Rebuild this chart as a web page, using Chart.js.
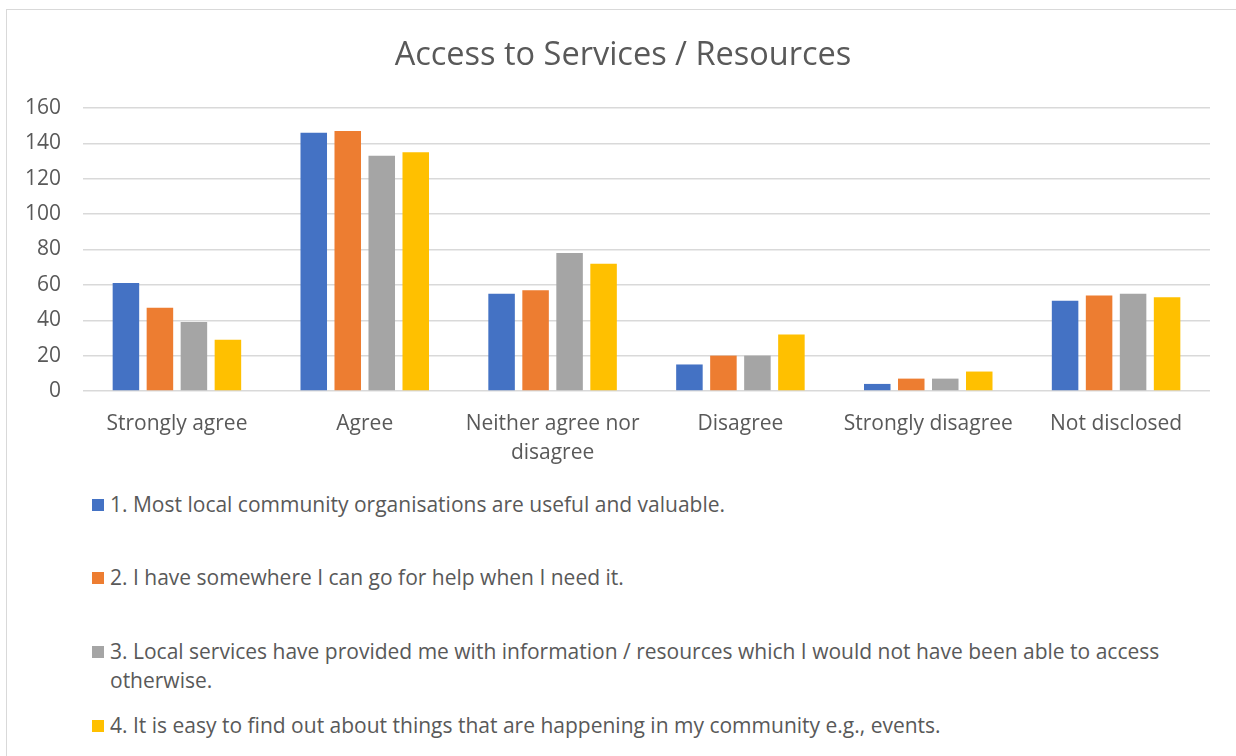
<!DOCTYPE html>
<html lang="en">
<head>
  <meta charset="UTF-8">
  <title>Access to Services / Resources</title>
  <script src="https://cdn.jsdelivr.net/npm/chart.js"></script>
  <style>
    body {
      margin: 0;
      background: #fff;
      font-family: 'Open Sans', sans-serif;
      overflow: hidden;
    }

    #frame {
      position: absolute;
      left: 6px;
      top: 9px;
      width: 1400px;
      height: 900px;
      border: 1.5px solid #d9d9d9;
    }

    #chart-wrap {
      position: absolute;
      left: 0;
      top: 0;
      width: 1236px;
      height: 470px;
    }

    #legend {
      position: absolute;
      left: 92px;
      top: 490px;
      width: 1120px;
      color: #595959;
      font-size: 21px;
      line-height: 29px;
    }

    .legend-item {
      display: flex;
      align-items: flex-start;
    }
    .legend-item:nth-child(2) { margin-top: 44px; }
    .legend-item:nth-child(3) { margin-top: 45px; }
    .legend-item:nth-child(4) { margin-top: 16px; }

    .legend-box {
      flex: 0 0 12px;
      height: 12px;
      margin-top: 8.5px;
      margin-right: 6px;
    }
    .legend-text {
      max-width: 1080px;
    }
  </style>
</head>
<body>

  <div id="frame"></div>
  <div id="chart-wrap"><canvas id="chart"></canvas></div>
  <div id="legend"></div>

  <script>
    const categories = [
      'Strongly agree',
      'Agree',
      ['Neither agree nor', 'disagree'],
      'Disagree',
      'Strongly disagree',
      'Not disclosed'
    ];

    const seriesNames = [
      '1. Most local community organisations are useful and valuable.',
      '2. I have somewhere I can go for help when I need it.',
      '3. Local services have provided me with information / resources which I would not have been able to access otherwise.',
      '4. It is easy to find out about things that are happening in my community e.g., events.'
    ];

    const usefulOrgs    = [61, 146, 55, 15, 4, 51];
    const helpWhenNeed  = [47, 147, 57, 20, 7, 54];
    const infoAccess    = [39, 133, 78, 20, 7, 55];
    const findOutEvents = [29, 135, 72, 32, 11, 53];

    const yTicks = [0, 20, 40, 60, 80, 100, 120, 140, 160];

    const colors = ['#4472C4', '#ED7D31', '#A5A5A5', '#FFC000'];
    const textColor = '#595959';
    const font = "'Open Sans', sans-serif";

    const values = [usefulOrgs, helpWhenNeed, infoAccess, findOutEvents];

    // the left padding centres the title on the frame; widen the y label
    // clip box back over that padding so "160" isn't cut off
    const yLabelRoom = {
      id: 'yLabelRoom',
      afterLayout(c) { c.scales.y.left = 0; }
    };

    const chart = new Chart(document.getElementById('chart'), {
      type: 'bar',
      data: {
        labels: categories,
        datasets: values.map((v, i) => ({
          label: seriesNames[i],
          data: v,
          backgroundColor: colors[i],
          categoryPercentage: 0.724,
          barPercentage: 0.78
        }))
      },
      plugins: [yLabelRoom],
      options: {
        responsive: true,
        maintainAspectRatio: false,
        animation: false,
        layout: { padding: { left: 36, right: 26, top: 0, bottom: 0 } },
        plugins: {
          legend: { display: false },
          tooltip: { enabled: false },
          title: {
            display: true,
            text: 'Access to Services / Resources',
            color: textColor,
            font: { family: font, size: 32.5, weight: 'normal', lineHeight: 1.2 },
            padding: { top: 36, bottom: 33 }
          }
        },
        scales: {
          x: {
            grid: { display: false },
            border: { display: false },
            ticks: {
              color: textColor,
              font: { family: font, size: 21, lineHeight: 1.38 },
              padding: 11,
              maxRotation: 0,
              autoSkip: false
            },
            afterFit: scale => { scale.height = 79; }
          },
          y: {
            min: 0,
            max: 160,
            afterBuildTicks: scale => {
              scale.ticks = yTicks.map(v => ({ value: v }));
            },
            grid: { color: '#d9d9d9', lineWidth: 1.5, drawTicks: false },
            border: { display: false },
            ticks: {
              color: textColor,
              font: { family: font, size: 21 },
              padding: 22
            },
            afterFit: scale => { scale.width = 47; }
          }
        }
      }
    });

    // legend below the chart, one entry per dataset
    const legend = document.getElementById('legend');
    chart.data.datasets.forEach(ds => {
      const item = document.createElement('div');
      item.className = 'legend-item';
      const box = document.createElement('span');
      box.className = 'legend-box';
      box.style.background = ds.backgroundColor;
      const text = document.createElement('span');
      text.className = 'legend-text';
      text.textContent = ds.label;
      item.appendChild(box);
      item.appendChild(text);
      legend.appendChild(item);
    });
  </script>

</body>
</html>
